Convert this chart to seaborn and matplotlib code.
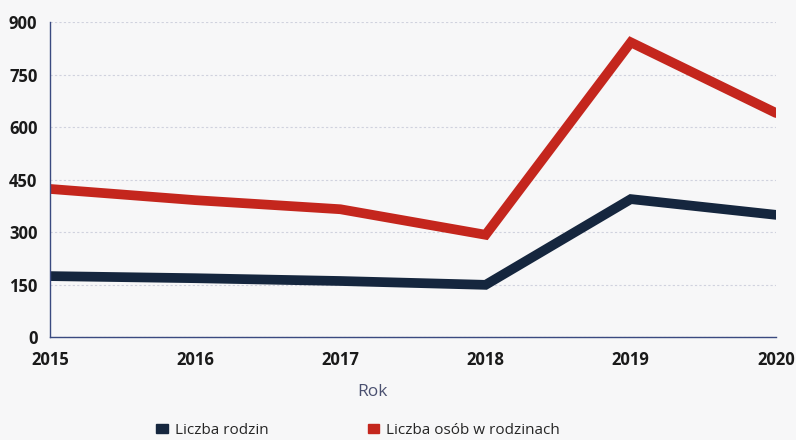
import matplotlib
matplotlib.use("Agg")
import matplotlib.pyplot as plt
import seaborn as sns
import pandas as pd
from matplotlib.patches import Patch

years = [2015, 2016, 2017, 2018, 2019, 2020]
rodziny = [174, 168, 160, 149, 394, 349]
osoby = [423, 391, 365, 292, 842, 640]
series_names = ["Liczba rodzin", "Liczba osób w rodzinach"]
colors = ["#15263e", "#c4261d"]
yticks = [0, 150, 300, 450, 600, 750, 900]

df = pd.DataFrame({
    "Rok": years * 2,
    "Wartość": rodziny + osoby,
    "Seria": [series_names[0]] * len(years) + [series_names[1]] * len(years),
})

sns.set_theme(style="white")
plt.rcParams["font.family"] = ["Open Sans", "DejaVu Sans"]

fig = plt.figure(figsize=(7.96, 4.4), dpi=100)
ax = fig.add_axes([50 / 796, 1 - 337 / 440, (776 - 50) / 796, (337 - 22) / 440])
fig.patch.set_facecolor("#f7f7f8")
ax.set_facecolor("#f7f7f8")

sns.lineplot(data=df, x="Rok", y="Wartość", hue="Seria", palette=colors,
             linewidth=7, ax=ax, legend=False, solid_joinstyle="miter")

ax.set_xlim(2015, 2020)
ax.set_ylim(0, 900)
ax.set_yticks(yticks)
ax.set_xticks(years)
ax.set_xticklabels([str(y) for y in years])
ax.yaxis.grid(True, color="#d0d2de", linestyle=(0, (2, 2)), linewidth=0.8)
ax.set_axisbelow(True)
for s in ["top", "right"]:
    ax.spines[s].set_visible(False)
for s in ["left", "bottom"]:
    ax.spines[s].set_color("#3a4a80")
    ax.spines[s].set_linewidth(1.0)

ax.tick_params(axis="both", length=0, labelsize=12, labelcolor="#1a1a1a")
ax.tick_params(axis="y", pad=9)
ax.tick_params(axis="x", pad=10)
for lbl in ax.get_xticklabels() + ax.get_yticklabels():
    lbl.set_fontweight("bold")

ax.set_xlabel("Rok", fontsize=12.5, color="#4a5070")
ax.xaxis.set_label_coords((372 - 50) / 726, (337 - 384) / 315)
ax.set_ylabel("")

handles = [Patch(facecolor=c, edgecolor=c) for c in colors]
fig.legend(handles, series_names, loc="center", bbox_to_anchor=(358 / 796, 0.022),
           ncol=2, frameon=False, fontsize=11, handlelength=0.75, handleheight=0.55,
           handletextpad=0.45, columnspacing=6.5)

fig.savefig("out.png", dpi=100, facecolor=fig.get_facecolor())
